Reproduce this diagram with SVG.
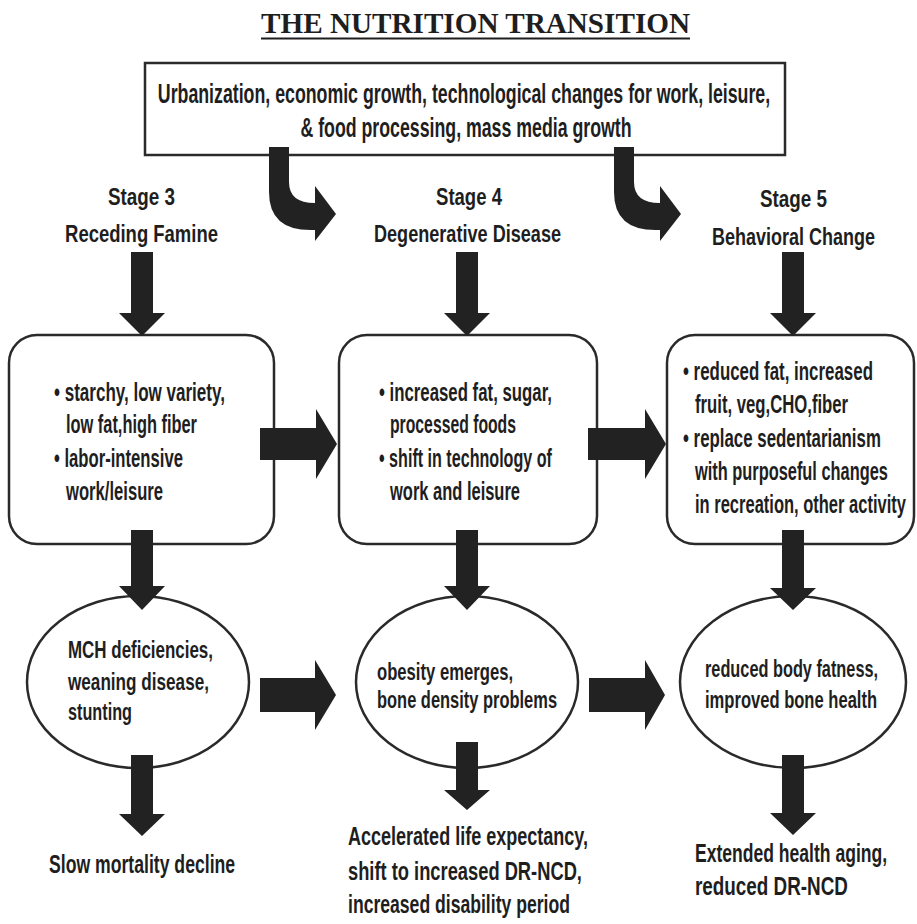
<svg xmlns="http://www.w3.org/2000/svg" width="917" height="924" viewBox="0 0 917 924">
<style>
text{font-family:"Liberation Sans",Arial,sans-serif;font-weight:bold;fill:#1e1e1e}
.title{font-family:"Liberation Serif","Times New Roman",serif;font-size:29px}
.top{font-size:27px}
.stage{font-size:24px}
.box{font-size:25px}
.ell{font-size:23px}
.res{font-size:26px}
.frame{fill:#fff;stroke:#2a2a2a;stroke-width:2.5}
.arrow{fill:#222;stroke:none}
</style>
<rect width="917" height="924" fill="#fff"/>

<g id="title">
<text class="title" x="261" y="33" textLength="429" lengthAdjust="spacingAndGlyphs">THE NUTRITION TRANSITION</text>
<line x1="261" y1="38.5" x2="690" y2="38.5" stroke="#1e1e1e" stroke-width="2"/>
</g>

<g id="drivers">
<rect class="frame" x="145" y="63" width="640" height="92"/>
<text class="top" transform="translate(464 103) scale(0.657 1)" text-anchor="middle" textLength="932" lengthAdjust="spacingAndGlyphs">Urbanization, economic growth, technological changes for work, leisure,</text>
<text class="top" transform="translate(466 137) scale(0.657 1)" text-anchor="middle" textLength="504" lengthAdjust="spacingAndGlyphs">&amp; food processing, mass media growth</text>
</g>

<g id="stage3">
<text class="stage" transform="translate(141.5 205) scale(0.785 1)" text-anchor="middle" textLength="85.4" lengthAdjust="spacingAndGlyphs">Stage 3</text>
<text class="stage" transform="translate(141.5 242) scale(0.779 1)" text-anchor="middle" textLength="196.3" lengthAdjust="spacingAndGlyphs">Receding Famine</text>
</g>
<g id="stage4">
<text class="stage" transform="translate(469 205) scale(0.773 1)" text-anchor="middle" textLength="85.4" lengthAdjust="spacingAndGlyphs">Stage 4</text>
<text class="stage" transform="translate(467.5 242) scale(0.754 1)" text-anchor="middle" textLength="248.1" lengthAdjust="spacingAndGlyphs">Degenerative Disease</text>
</g>
<g id="stage5">
<text class="stage" transform="translate(793.5 207) scale(0.785 1)" text-anchor="middle" textLength="85.4" lengthAdjust="spacingAndGlyphs">Stage 5</text>
<text class="stage" transform="translate(793.5 245) scale(0.75 1)" text-anchor="middle" textLength="217.4" lengthAdjust="spacingAndGlyphs">Behavioral Change</text>
</g>

<g id="box3">
<rect class="frame" x="9" y="335" width="265" height="209" rx="28" ry="28"/>
<text class="box" transform="translate(54 401) scale(0.671 1)" textLength="254.7" lengthAdjust="spacingAndGlyphs">• starchy, low variety,</text>
<text class="box" transform="translate(66 433) scale(0.655 1)" textLength="200" lengthAdjust="spacingAndGlyphs">low fat,high fiber</text>
<text class="box" transform="translate(54 467) scale(0.666 1)" textLength="193.6" lengthAdjust="spacingAndGlyphs">• labor-intensive</text>
<text class="box" transform="translate(66 500) scale(0.665 1)" textLength="145.9" lengthAdjust="spacingAndGlyphs">work/leisure</text>
</g>
<g id="box4">
<rect class="frame" x="339" y="335" width="258" height="209" rx="28" ry="28"/>
<text class="box" transform="translate(379 401) scale(0.668 1)" textLength="258.9" lengthAdjust="spacingAndGlyphs">• increased fat, sugar,</text>
<text class="box" transform="translate(390 433) scale(0.63 1)" textLength="200" lengthAdjust="spacingAndGlyphs">processed foods</text>
<text class="box" transform="translate(379 467) scale(0.644 1)" textLength="268.5" lengthAdjust="spacingAndGlyphs">• shift in technology of</text>
<text class="box" transform="translate(390 500) scale(0.659 1)" textLength="197.3" lengthAdjust="spacingAndGlyphs">work and leisure</text>
</g>
<g id="box5">
<rect class="frame" x="667" y="335" width="247" height="209" rx="28" ry="28"/>
<text class="box" transform="translate(683 380) scale(0.676 1)" textLength="281" lengthAdjust="spacingAndGlyphs">• reduced fat, increased</text>
<text class="box" transform="translate(695 413) scale(0.668 1)" textLength="229.2" lengthAdjust="spacingAndGlyphs">fruit, veg,CHO,fiber</text>
<text class="box" transform="translate(683 447) scale(0.674 1)" textLength="293.6" lengthAdjust="spacingAndGlyphs">• replace sedentarianism</text>
<text class="box" transform="translate(695 480) scale(0.655 1)" textLength="294.5" lengthAdjust="spacingAndGlyphs">with purposeful changes</text>
<text class="box" transform="translate(695 513) scale(0.66 1)" textLength="319.6" lengthAdjust="spacingAndGlyphs">in recreation, other activity</text>
</g>

<g id="outcome3">
<ellipse class="frame" cx="138" cy="682" rx="111" ry="86"/>
<text class="ell" transform="translate(68 658) scale(0.737 1)" textLength="196.7" lengthAdjust="spacingAndGlyphs">MCH deficiencies,</text>
<text class="ell" transform="translate(68 690) scale(0.745 1)" textLength="189.2" lengthAdjust="spacingAndGlyphs">weaning disease,</text>
<text class="ell" transform="translate(68 720) scale(0.705 1)" textLength="90.7" lengthAdjust="spacingAndGlyphs">stunting</text>
</g>
<g id="outcome4">
<ellipse class="frame" cx="467" cy="682" rx="111" ry="86"/>
<text class="ell" transform="translate(377 680) scale(0.724 1)" textLength="187.9" lengthAdjust="spacingAndGlyphs">obesity emerges,</text>
<text class="ell" transform="translate(377 708) scale(0.715 1)" textLength="251.8" lengthAdjust="spacingAndGlyphs">bone density problems</text>
</g>
<g id="outcome5">
<ellipse class="frame" cx="793" cy="682" rx="113" ry="86"/>
<text class="ell" transform="translate(705 677) scale(0.709 1)" textLength="244.1" lengthAdjust="spacingAndGlyphs">reduced body fatness,</text>
<text class="ell" transform="translate(705 708) scale(0.72 1)" textLength="239" lengthAdjust="spacingAndGlyphs">improved bone health</text>
</g>

<g id="result3">
<text class="res" transform="translate(49 873) scale(0.678 1)" textLength="274.5" lengthAdjust="spacingAndGlyphs">Slow mortality decline</text>
</g>
<g id="result4">
<text class="res" transform="translate(348 845) scale(0.689 1)" textLength="348.3" lengthAdjust="spacingAndGlyphs">Accelerated life expectancy,</text>
<text class="res" transform="translate(348 880) scale(0.704 1)" textLength="332.3" lengthAdjust="spacingAndGlyphs">shift to increased DR-NCD,</text>
<text class="res" transform="translate(348 913) scale(0.677 1)" textLength="327.8" lengthAdjust="spacingAndGlyphs">increased disability period</text>
</g>
<g id="result5">
<text class="res" transform="translate(695 862) scale(0.675 1)" textLength="284.6" lengthAdjust="spacingAndGlyphs">Extended health aging,</text>
<text class="res" transform="translate(695 895) scale(0.725 1)" textLength="210.9" lengthAdjust="spacingAndGlyphs">reduced DR-NCD</text>
</g>

<g id="connectors">
<path class="arrow" d="M269,147 L289,147 L289,182 Q289,203 315,203 L315,186 L336,214 L315,241 L315,230 Q269,232 269,192 Z"/>
<path class="arrow" d="M614,147 L634,147 L634,182 Q634,203 660,203 L660,186 L681,214 L660,241 L660,230 Q614,232 614,192 Z"/>
<path class="arrow" d="M131,252 H153 V313 H165 L142,336 L119,313 H131 Z"/>
<path class="arrow" d="M456,252 H478 V313 H490 L467,336 L444,313 H456 Z"/>
<path class="arrow" d="M782,252 H804 V313 H816 L793,336 L770,313 H782 Z"/>
<path class="arrow" d="M131,530 H153 V586 H165 L142,610 L119,586 H131 Z"/>
<path class="arrow" d="M456,530 H478 V586 H490 L467,610 L444,586 H456 Z"/>
<path class="arrow" d="M782,530 H804 V588 H816 L793,610 L770,588 H782 Z"/>
<path class="arrow" d="M131,755 H153 V814 H165 L142,836 L119,814 H131 Z"/>
<path class="arrow" d="M456,742 H478 V790 H490 L467,810 L444,790 H456 Z"/>
<path class="arrow" d="M782,755 H804 V813 H816 L793,835 L770,813 H782 Z"/>
<path class="arrow" d="M260,428 H316 V409 L337,444 L316,479 V460 H260 Z"/>
<path class="arrow" d="M588,428 H645 V409 L666,444 L645,479 V460 H588 Z"/>
<path class="arrow" d="M260,678 H315 V660 L336,695 L315,730 V712 H260 Z"/>
<path class="arrow" d="M589,678 H645 V660 L665,695 L645,730 V712 H589 Z"/>
</g>
</svg>
